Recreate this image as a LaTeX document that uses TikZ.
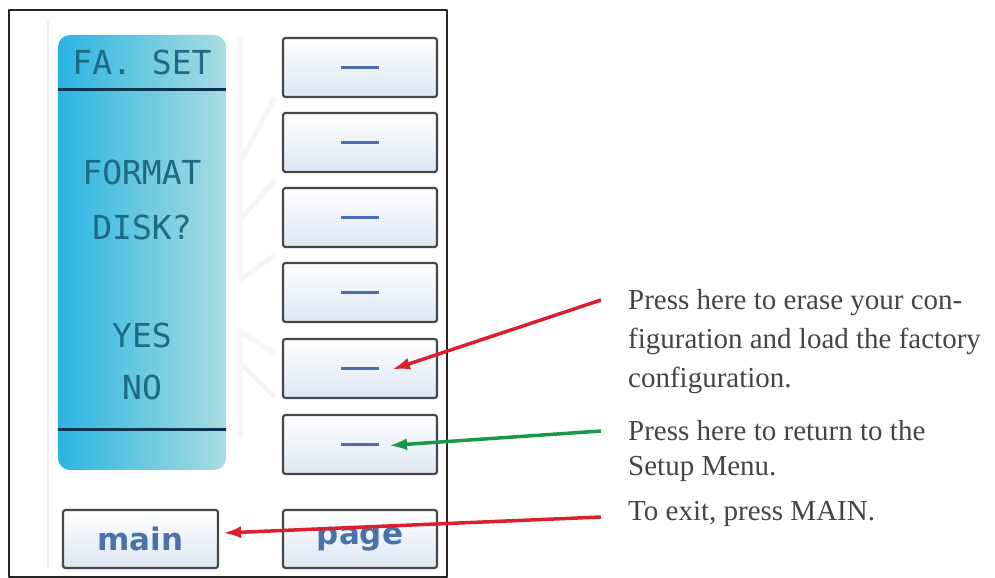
\documentclass[tikz,border=0pt]{standalone}
\usepackage{fontspec}
\setmainfont{Liberation Serif}
\newfontfamily\lcdfont{DejaVu Sans Mono}
\newfontfamily\keyfont{DejaVu Sans}
\usetikzlibrary{arrows.meta}
\definecolor{lcdtext}{HTML}{1D6A85}
\definecolor{lcdleft}{HTML}{2BB4E2}
\definecolor{lcdright}{HTML}{A9DDE0}
\definecolor{lcdrule}{HTML}{0B3450}
\definecolor{keyfill}{HTML}{DCE6F2}
\definecolor{keyblue}{HTML}{4A72AA}
\definecolor{dashblue}{HTML}{4B6DB0}
\definecolor{notegray}{HTML}{454545}
\definecolor{arrowred}{HTML}{DA1F2D}
\definecolor{arrowgreen}{HTML}{17994A}
\tikzset{
  button/.style={draw=black!72,line width=2.2bp,rounded corners=2.5bp,top color=white,bottom color=keyfill,
    minimum width=154bp,minimum height=59bp,inner sep=0pt},
  lcd/.style={text=lcdtext,font=\lcdfont\fontsize{33bp}{33bp}\selectfont},
  keylabel/.style={text=keyblue,font=\keyfont\bfseries\fontsize{31bp}{31bp}\selectfont},
  note/.style={anchor=north west,align=left,inner sep=0pt,text=notegray,font=\fontsize{29bp}{39bp}\selectfont},
  ghost/.style={gray!8,line width=5bp},
  pointer/.style={line width=3.5bp,->},
}
\newcommand{\keydash}{\textcolor{dashblue}{\rule{38bp}{3.5bp}}}
\begin{document}
\begin{tikzpicture}[>={Latex[length=18bp,width=12bp]},line join=bevel,]
\useasboundingbox (0bp,0bp) rectangle (995bp,578bp);
%%
\draw [gray!10,line width=1.5bp] (48bp,558bp) -- (48bp,10bp);
\draw [ghost] (275bp,481bp) -- (240bp,415bp);
  \draw [ghost] (275bp,398bp) -- (240bp,358bp);
  \draw [ghost] (275bp,323bp) -- (240bp,298bp);
  \draw [ghost] (240bp,246bp) -- (275bp,225bp);
  \draw [ghost] (240bp,215bp) -- (275bp,181bp);
  \draw [gray!6,line width=6bp] (240bp,540bp) -- (240bp,300bp);
  \draw [gray!6,line width=6bp] (240bp,250bp) -- (240bp,140bp);
%%
\node (panel) at (142.0bp,325.5bp) [left color=lcdleft,right color=lcdright,rounded corners=12bp,
    minimum width=168bp,minimum height=435bp,inner sep=0pt] {};
  \draw [lcdrule,line width=3bp] (58bp,488bp) -- (226bp,488bp);
  \draw [lcdrule,line width=3bp] (58bp,148bp) -- (226bp,148bp);
  \node (lcd_0) at (142.0bp,516.0bp) [lcd] {FA. SET};
  \node (lcd_1) at (142.0bp,406.0bp) [lcd] {FORMAT};
  \node (lcd_2) at (142.0bp,351.0bp) [lcd] {DISK?};
  \node (lcd_3) at (142.0bp,243.0bp) [lcd] {YES};
  \node (lcd_4) at (142.0bp,191.0bp) [lcd] {NO};
%%
\node (btn_0) at (360.0bp,510.5bp) [button] {\keydash};
  \node (btn_1) at (360.0bp,435.5bp) [button] {\keydash};
  \node (btn_2) at (360.0bp,360.5bp) [button] {\keydash};
  \node (btn_3) at (360.0bp,285.5bp) [button] {\keydash};
  \node (btn_4) at (360.0bp,209.5bp) [button] {\keydash};
  \node (btn_5) at (360.0bp,133.5bp) [button] {\keydash};
  \node (main) at (140.5bp,39.0bp) [button,minimum width=155bp,minimum height=58bp,keylabel] {main};
  \node (page) at (360.0bp,39.0bp) [button,minimum height=58bp,keylabel] {page};
%%
\draw [black!85,line width=2.8bp] (9bp,1bp) rectangle (447bp,568bp);
%%
\node (note_0) at (628.0bp,289.0bp) [note] {Press here to erase your con-\\figuration and load the factory\\configuration.};
  \node (note_1) at (628.0bp,158.0bp) [note,font=\fontsize{29bp}{35bp}\selectfont] {Press here to return to the\\Setup Menu.};
  \node (note_2) at (628.0bp,77.0bp) [note] {To exit, press MAIN.};
  \coordinate (tail_0) at (601.0bp,278.0bp);
  \coordinate (tail_1) at (601.0bp,147.0bp);
  \coordinate (tail_2) at (601.0bp,61.0bp);
  \draw [arrowred,pointer] (tail_0) -- ([xshift=32bp,yshift=-1bp]btn_4.center);
  \draw [arrowgreen,pointer] (tail_1) -- ([xshift=29bp,yshift=-1bp]btn_5.center);
  \draw [arrowred,pointer] (tail_2) -- ([xshift=4bp,yshift=6bp]main.east);
%
\end{tikzpicture}
\end{document}
